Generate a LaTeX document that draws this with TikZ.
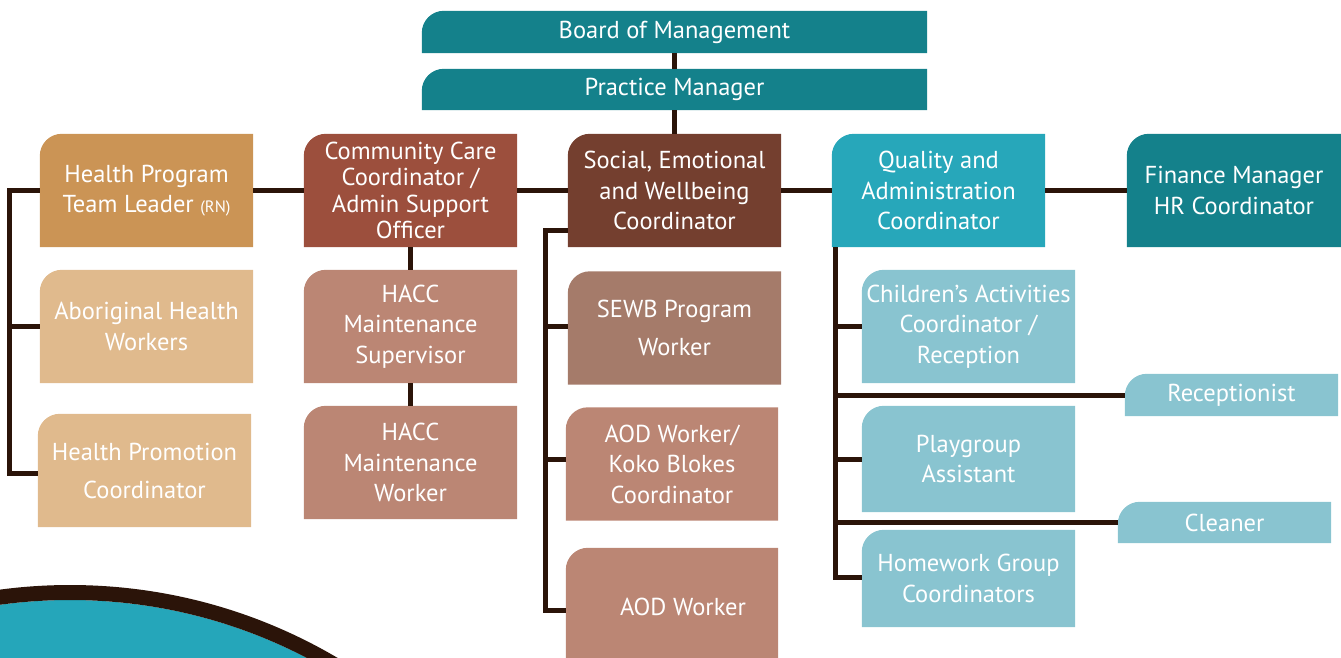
\documentclass[tikz,border=0pt]{standalone}
\usepackage{fontspec}
\setmainfont{PT Sans}
\usetikzlibrary{calc}
\pgfdeclarelayer{background}
\pgfsetlayers{background,main}

\definecolor{tealdark}{HTML}{14818B}
\definecolor{tealmid}{HTML}{27A7BA}
\definecolor{bluelight}{HTML}{89C4D0}
\definecolor{ochre}{HTML}{CB9455}
\definecolor{tanlight}{HTML}{E0BA8D}
\definecolor{rust}{HTML}{9C4F3D}
\definecolor{brown}{HTML}{743F2F}
\definecolor{mauve}{HTML}{A57B6A}
\definecolor{clay}{HTML}{BB8674}
\definecolor{linec}{HTML}{2B1409}
\definecolor{arcteal}{HTML}{25A6BA}

% filled card with a rounded top-left corner only
\newcommand\cardfill[2]{%
  \fill[#2] (#1.south west) -- ([yshift=-22pt]#1.north west)
    arc[start angle=180,end angle=90,radius=22pt]
    -- (#1.north east) -- (#1.south east) -- cycle;}

\begin{document}
\begin{tikzpicture}[x=1pt,y=-1pt,
  card/.style={align=center, text=white, inner sep=0pt,
    minimum width=213pt, minimum height=113pt,
    font=\fontsize{24.5}{30.5}\selectfont},
  wide/.style={minimum width=505pt, minimum height=42pt},
  slim/.style={minimum height=42pt},
  airy/.style={font=\fontsize{24.5}{38}\selectfont},
  link/.style={line width=5pt, draw=linec}]
\useasboundingbox (0,0) rectangle (1341,657);
\clip (0,0) rectangle (1341,657);

% top of the chart
\node[card, wide] (board) at (674.5,32) {Board of Management};
\node[card, wide, minimum height=41pt] (pm) at (674.5,89.5) {Practice Manager};

% coordinators row
\node[card] (hptl) at (146.5,190.5) {Health Program\\Team Leader {\fontsize{16.5}{18}\selectfont(RN)}};
\node[card, font=\fontsize{24.5}{26.5}\selectfont] (ccc) at (410.5,190.5) {Community Care\\Coordinator /\\Admin Support\\Officer};
\node[card] (sewbc) at (674.5,190.5) {Social, Emotional\\and Wellbeing\\Coordinator};
\node[card] (qac) at (938.5,190.5) {Quality and\\Administration\\Coordinator};
\node[card, minimum width=214pt] (fin) at (1234,190.5) {Finance Manager\\HR Coordinator};

% health program team
\node[card] (ahw) at (146.5,326.5) {Aboriginal Health\\Workers};
\node[card, airy] (hpc) at (144.5,470.5) {Health Promotion\\Coordinator};

% community care team
\node[card] (haccs) at (410.5,326.5) {HACC\\Maintenance\\Supervisor};
\node[card] (haccw) at (410.5,462.5) {HACC\\Maintenance\\Worker};

% SEWB team
\node[card, airy] (sewbw) at (674.5,328) {SEWB Program\\Worker};
\node[card, minimum width=212pt] (aodk) at (672,464) {AOD Worker/\\Koko Blokes\\Coordinator};
\node[card, minimum width=212pt, minimum height=117pt] (aod) at (672,606.5) {\hspace*{22pt}AOD Worker};

% quality and administration team
\node[card] (child) at (968.5,326.5) {Children’s Activities\\Coordinator /\\Reception};
\node[card, slim] (recep) at (1231.5,395) {Receptionist};
\node[card, minimum height=106pt] (play) at (968.5,459) {Playgroup\\Assistant};
\node[card, slim, minimum height=41pt] (clean) at (1224.5,522.5) {Cleaner};
\node[card, minimum height=97pt] (home) at (968.5,578.5) {Homework Group\\Coordinators};

% spines of the side branches
\coordinate (lsp) at (9,0);
\coordinate (ssp) at (545,0);
\coordinate (qsp) at (835,0);

\begin{pgfonlayer}{background}
  % decorative disc at the lower left
  \fill[arcteal] (70,1112) circle[radius=512pt];
  \draw[line width=15pt, linec] (70,1112) circle[radius=519.5pt];
  \cardfill{board}{tealdark}
  \cardfill{pm}{tealdark}
  \cardfill{hptl}{ochre}
  \cardfill{ccc}{rust}
  \cardfill{sewbc}{brown}
  \cardfill{qac}{tealmid}
  \cardfill{fin}{tealdark}
  \cardfill{ahw}{tanlight}
  \cardfill{hpc}{tanlight}
  \cardfill{haccs}{clay}
  \cardfill{haccw}{clay}
  \cardfill{sewbw}{mauve}
  \cardfill{aodk}{clay}
  \cardfill{aod}{clay}
  \cardfill{child}{bluelight}
  \cardfill{recep}{bluelight}
  \cardfill{play}{bluelight}
  \cardfill{clean}{bluelight}
  \cardfill{home}{bluelight}
\end{pgfonlayer}

% reporting lines
\draw[link] (board.south) -- (pm.north);
\draw[link] (pm.south) -- (sewbc.north);
\draw[link] (hptl.east) -- (ccc.west);
\draw[link] (ccc.east) -- (sewbc.west);
\draw[link] (sewbc.east) -- (qac.west);
\draw[link] (qac.east) -- (fin.west);

\draw[link] (hptl.west) -- (hptl.west -| lsp) |- ([yshift=-2.5pt]hpc.west);
\draw[link] (ahw.west) -- (ahw.west -| lsp);

\draw[link] (ccc.south -| haccs.north) -- (haccs.north);
\draw[link] (haccs.south) -- (haccw.north);

\coordinate (stap) at ($(sewbc.south west)+(0,-17)$);
\draw[link] (stap) -- (stap -| ssp) |- ([yshift=-3.5pt]aod.west);
\draw[link] ([yshift=2pt]sewbw.west) -- ([yshift=2pt]sewbw.west -| ssp);
\draw[link] ([yshift=5pt]aodk.west) -- ([yshift=5pt]aodk.west -| ssp);

\draw[link] (qac.south -| qsp) |- ([yshift=1.5pt]home.west);
\draw[link] (child.west) -- (child.west -| qsp);
\draw[link] (recep.west) -- (recep.west -| qsp);
\draw[link] (play.west) -- (play.west -| qsp);
\draw[link] (clean.west) -- (clean.west -| qsp);
\end{tikzpicture}
\end{document}
